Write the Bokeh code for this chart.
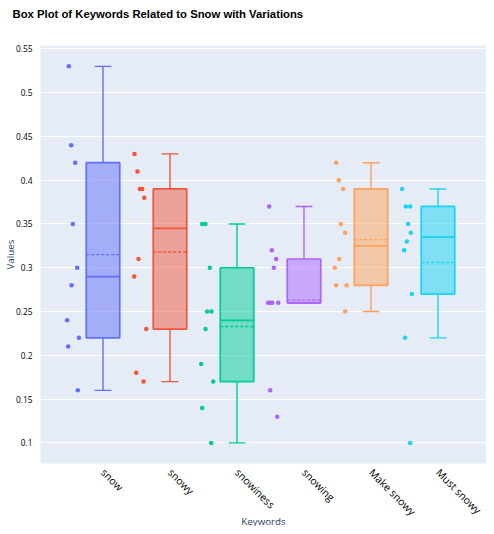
import numpy as np
from bokeh.plotting import figure
from bokeh.models import ColumnDataSource, FixedTicker, Title
from bokeh.embed import file_html
from bokeh.resources import INLINE

keywords = ["snow", "snowy", "snowiness", "snowing", "Make snowy", "Must snowy"]
colors = ["#636EFA", "#EF553B", "#00CC96", "#AB63FA", "#FFA15A", "#19D3F3"]

snow = [0.53, 0.44, 0.42, 0.35, 0.30, 0.28, 0.24, 0.22, 0.21, 0.16]
snowy = [0.43, 0.41, 0.39, 0.39, 0.38, 0.31, 0.29, 0.23, 0.18, 0.17]
snowiness = [0.35, 0.35, 0.30, 0.25, 0.25, 0.23, 0.19, 0.17, 0.14, 0.10]
snowing = [0.37, 0.32, 0.31, 0.30, 0.26, 0.26, 0.26, 0.26, 0.16, 0.13]
make_snowy = [0.42, 0.40, 0.39, 0.35, 0.34, 0.31, 0.30, 0.28, 0.28, 0.25]
must_snowy = [0.39, 0.37, 0.37, 0.35, 0.34, 0.33, 0.32, 0.27, 0.22, 0.10]
values = [snow, snowy, snowiness, snowing, make_snowy, must_snowy]

# horizontal spread of the points (in category widths)
jitter = [
    [-0.51, -0.475, -0.415, -0.45, -0.385, -0.47, -0.535, -0.36, -0.52, -0.376],
    [-0.53, -0.485, -0.45, -0.415, -0.385, -0.47, -0.535, -0.355, -0.505, -0.395],
    [-0.52, -0.47, -0.405, -0.445, -0.38, -0.47, -0.535, -0.355, -0.52, -0.385],
    [-0.52, -0.48, -0.415, -0.45, -0.535, -0.505, -0.475, -0.385, -0.505, -0.4],
    [-0.52, -0.48, -0.415, -0.45, -0.385, -0.475, -0.54, -0.52, -0.365, -0.385],
    [-0.535, -0.48, -0.415, -0.445, -0.405, -0.465, -0.505, -0.39, -0.49, -0.415],
]

y_ticks = [0.1, 0.15, 0.2, 0.25, 0.3, 0.35, 0.4, 0.45, 0.5, 0.55]


def box_stats(v):
    v = np.array(v)
    q1, med, q3 = np.percentile(v, [25, 50, 75], method="hazen")
    iqr = q3 - q1
    lo = v[v >= q1 - 1.5 * iqr].min()
    hi = v[v <= q3 + 1.5 * iqr].max()
    return q1, med, q3, lo, hi, v.mean()


p = figure(width=486, height=526, x_range=(-0.933, 5.724), y_range=(0.0765, 0.5538),
           output_backend="svg", toolbar_location=None,
           min_border_left=40, min_border_right=0, min_border_top=45, min_border_bottom=63)
p.background_fill_color = "#E5ECF6"
p.border_fill_color = "white"
p.outline_line_color = None

# spacer first (next to the frame), then the real title above it
p.add_layout(Title(text=" ", text_font_size="11px", standoff=10), "above")
p.add_layout(Title(text="Box Plot of Keywords Related to Snow with Variations",
                   align="left", offset=-28, vertical_align="top", standoff=0,
                   text_font="Liberation Sans", text_font_style="bold",
                   text_font_size="11.3px", text_color="black"), "above")

half = 0.25
cap = 0.125
for i, (v, c) in enumerate(zip(values, colors)):
    q1, med, q3, lo, hi, mean = box_stats(v)
    p.quad(left=i - half, right=i + half, bottom=q1, top=q3,
           fill_color=c, fill_alpha=0.5, line_color=c, line_width=1.7)
    p.segment(x0=[i - half], x1=[i + half], y0=[med], y1=[med], line_color=c, line_width=1.7)
    p.segment(x0=[i - half], x1=[i + half], y0=[mean], y1=[mean], line_color=c,
              line_width=1.4, line_dash="3 2")
    p.segment(x0=[i, i], x1=[i, i], y0=[q3, q1], y1=[hi, lo], line_color=c, line_width=1.4)
    p.segment(x0=[i - cap, i - cap], x1=[i + cap, i + cap], y0=[hi, lo], y1=[hi, lo],
              line_color=c, line_width=1.4)
    src = ColumnDataSource(dict(x=[i + j for j in jitter[i]], y=v))
    p.scatter("x", "y", source=src, size=4.5, fill_color=c, line_color=None)

p.xgrid.grid_line_color = None
p.ygrid.grid_line_color = "white"
p.ygrid.grid_line_width = 1

p.xaxis.ticker = FixedTicker(ticks=list(range(len(keywords))))
p.xaxis.major_label_overrides = {i: k for i, k in enumerate(keywords)}
p.xaxis.major_label_orientation = -0.785
p.xaxis.major_label_text_font = "Open Sans"
p.xaxis.major_label_text_font_size = "10.5px"
p.xaxis.major_label_text_color = "black"
p.xaxis.major_label_standoff = 1

# x axis title sits below the tick labels, as a title on the lower side
p.add_layout(Title(text="Keywords", align="center", vertical_align="top", standoff=-24,
                   text_font="Open Sans", text_font_size="9.8px",
                   text_font_style="normal", text_color="#2a3f5f"), "below")

p.yaxis.ticker = FixedTicker(ticks=y_ticks)
p.yaxis.major_label_overrides = {t: f"{t:g}" for t in y_ticks}
p.yaxis.major_label_text_font = "Open Sans"
p.yaxis.major_label_text_font_size = "8.4px"
p.yaxis.major_label_text_color = "black"
p.yaxis.major_label_standoff = 2
p.yaxis.axis_label = "Values"
p.yaxis.axis_label_standoff = -4
p.yaxis.axis_label_text_font = "Open Sans"
p.yaxis.axis_label_text_font_size = "9.8px"
p.yaxis.axis_label_text_font_style = "normal"
p.yaxis.axis_label_text_color = "#2a3f5f"

for ax in (p.xaxis, p.yaxis):
    ax.axis_line_color = None
    ax.major_tick_line_color = None
    ax.minor_tick_line_color = None

open("out.html", "w").write(file_html(p, INLINE))
